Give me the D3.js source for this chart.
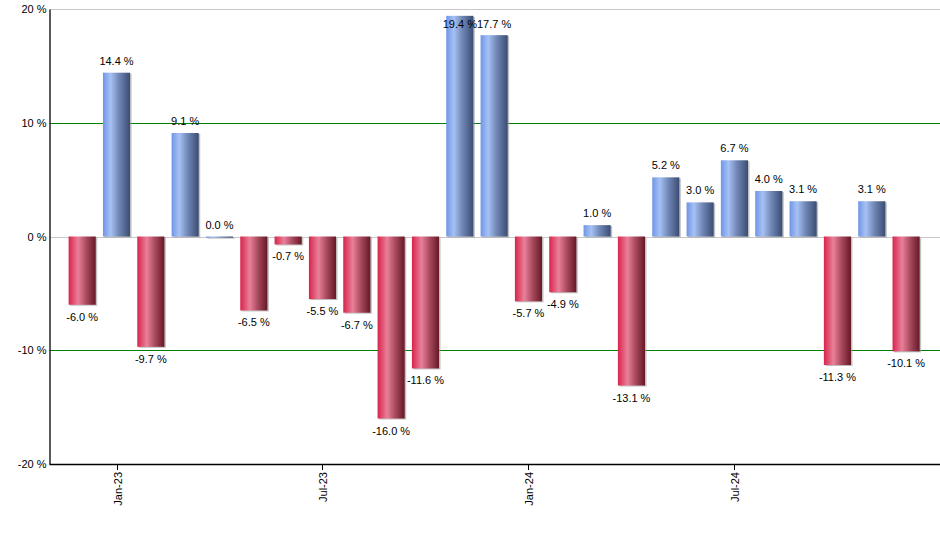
<!DOCTYPE html>
<html><head><meta charset="utf-8">
<script src="https://cdn.jsdelivr.net/npm/d3@7"></script>
<style>body{margin:0;background:#fff;}svg{display:block;font-family:Arial,"Liberation Sans",sans-serif;}</style>
</head><body>
<svg id="c" width="940" height="550"></svg>
<script>
const months = ["Dec-22","Jan-23","Feb-23","Mar-23","Apr-23","May-23","Jun-23","Jul-23","Aug-23","Sep-23","Oct-23","Nov-23","Dec-23","Jan-24","Feb-24","Mar-24","Apr-24","May-24","Jun-24","Jul-24","Aug-24","Sep-24","Oct-24","Nov-24","Dec-24"];
const values = [-6.0,14.4,-9.7,9.1,0.0,-6.5,-0.7,-5.5,-6.7,-16.0,-11.6,19.4,17.7,-5.7,-4.9,1.0,-13.1,5.2,3.0,6.7,4.0,3.1,-11.3,3.1,-10.1];
const xTickLabels = ["Jan-23","Jul-23","Jan-24","Jul-24"];
const yTicks = [-20,-10,0,10,20];
const gridValues = [20,10,0,-10];
const gridColors = ["#c8c8c8","#008000","#c8c8c8","#008000"];

const svg = d3.select("#c");
const L = 49.5, R = 940, T = 9, B = 464;
const step = 34.33;
const x = d3.scaleBand().domain(months).range([116.5 - step*1.5, 116.5 - step*1.5 + step*months.length]).paddingInner(0.21).paddingOuter(0.105);
const y = d3.scaleLinear().domain([-20,20]).range([B,T]);

const defs = svg.append("defs");
function grad(id, stops){
  const g = defs.append("linearGradient").attr("id",id).attr("x1","0").attr("x2","1").attr("y1","0").attr("y2","0");
  stops.forEach(s=>g.append("stop").attr("offset",s[0]).attr("stop-color",s[1]));
}
grad("gPos",[[0,"#6f95e6"],[0.28,"#a6c1f4"],[0.6,"#6f86b4"],[1,"#3a4c73"]]);
grad("gNeg",[[0,"#d8244c"],[0.35,"#e9809a"],[0.65,"#a84a5e"],[1,"#661826"]]);

// gridlines
gridValues.forEach((v,i)=>{
  const yy = Math.round(y(v))+0.5;
  svg.append("line").attr("x1",L).attr("x2",R).attr("y1",yy).attr("y2",yy)
    .attr("stroke",gridColors[i]).attr("stroke-width",1).attr("shape-rendering","crispEdges");
});

// bars
const bw = x.bandwidth();
const g = svg.append("g");
values.forEach((v,i)=>{
  const x0 = x(months[i]);
  const y0 = y(Math.max(v,0)), y1 = y(Math.min(v,0));
  const h = Math.max(y1-y0, 1.2);
  g.append("rect").attr("x",x0+1.5).attr("y",y0+1).attr("width",bw).attr("height",h).attr("fill","#9a9a9a").attr("opacity",0.6);
  g.append("rect").attr("x",x0).attr("y",y0).attr("width",bw).attr("height",h)
    .attr("fill", v>=0 ? "url(#gPos)" : "url(#gNeg)");
});

// value labels
values.forEach((v,i)=>{
  const cx = x(months[i]) + bw/2;
  let ly;
  if (v >= 0) { ly = Math.max(y(v) - 8, 28); }
  else { ly = y(v) + 16; }
  svg.append("text").attr("x",cx).attr("y",ly).attr("text-anchor","middle")
    .attr("font-size","11px").attr("fill","#000").text(v.toFixed(1)+" %");
});

// axes
const yAxis = d3.axisLeft(y).tickValues(yTicks).tickSize(0).tickPadding(3).tickFormat(d=>d+" %");
const ya = svg.append("g").attr("transform",`translate(${L},0)`).call(yAxis);
ya.select(".domain").attr("stroke","#000").attr("stroke-width",1.3);
ya.selectAll(".tick line").remove();
ya.selectAll("text").attr("font-size","11px").attr("fill","#000").attr("font-family","Arial,'Liberation Sans',sans-serif");

const xa = svg.append("g").attr("transform",`translate(0,${B})`);
xa.append("line").attr("x1",L).attr("x2",R).attr("y1",0.5).attr("y2",0.5).attr("stroke","#000").attr("stroke-width",1.3);
xTickLabels.forEach(lbl=>{
  const cx = Math.round(x(lbl) + bw/2) + 0.5;
  xa.append("line").attr("x1",cx).attr("x2",cx).attr("y1",0).attr("y2",6).attr("stroke","#000");
  xa.append("text").attr("transform",`translate(${cx+4},${8}) rotate(-90)`).attr("text-anchor","end")
    .attr("font-size","11px").attr("fill","#000").text(lbl);
});
</script>
</body></html>
